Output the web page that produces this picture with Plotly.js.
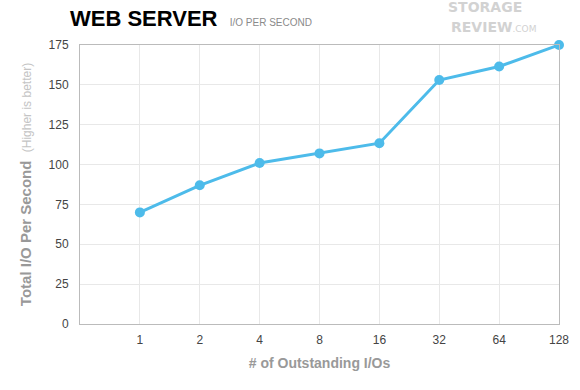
<!DOCTYPE html>
<html>
<head>
<meta charset="utf-8">
<script src="https://cdn.plot.ly/plotly-3.0.1.min.js"></script>
<style>html,body{margin:0;padding:0;background:#fff;}#chart{width:580px;height:390px;}</style>
</head>
<body>
<div id="chart"></div>
<script>
const categories = ["1", "2", "4", "8", "16", "32", "64", "128"];
const iops = [70, 87, 101, 107, 113.4, 153, 161.5, 175];
const yTicks = [0, 25, 50, 75, 100, 125, 150, 175];

const trace = {
  x: categories,
  y: iops,
  type: 'scatter',
  mode: 'lines+markers',
  line: {color: '#4dbbea', width: 3},
  marker: {color: '#4dbbea', size: 10},
  cliponaxis: false,
  hoverinfo: 'none'
};

const layout = {
  width: 580,
  height: 390,
  margin: {l: 80, r: 21, t: 45, b: 66},
  paper_bgcolor: '#ffffff',
  plot_bgcolor: '#ffffff',
  showlegend: false,
  font: {family: 'Liberation Sans, Arial, sans-serif', color: '#444'},
  title: {
    text: "<b>WEB SERVER</b>  <span style='font-size:10px;color:#8a8a8a;font-weight:normal'>I/O PER SECOND</span>",
    font: {family: 'Liberation Sans, Arial, sans-serif', size: 22, color: '#000'},
    xref: 'container', yref: 'container',
    x: 70/580, xanchor: 'left',
    y: 1 - 18/390, yanchor: 'middle'
  },
  xaxis: {
    type: 'category',
    range: [-1, 7],
    showgrid: true,
    gridcolor: '#e8e8e8',
    gridwidth: 1,
    showline: true,
    mirror: true,
    linecolor: '#bbbbbb',
    linewidth: 1,
    ticks: '',
    ticklabelstandoff: 5,
    tickfont: {size: 12, color: '#444'},
    zeroline: false,
    fixedrange: true,
    title: {text: '<b># of Outstanding I/Os</b>', font: {size: 14, color: '#999'}, standoff: 11}
  },
  yaxis: {
    range: [0, 175],
    tickvals: yTicks,
    ticktext: yTicks.map(String),
    showgrid: true,
    gridcolor: '#e8e8e8',
    gridwidth: 1,
    showline: true,
    mirror: true,
    linecolor: '#bbbbbb',
    linewidth: 1,
    ticks: '',
    ticklabelstandoff: 8,
    tickfont: {size: 12, color: '#444'},
    zeroline: false,
    fixedrange: true,
    title: {text: "<b>Total I/O Per Second</b>  <span style='font-size:12px;color:#c4c4c4;font-weight:normal'>(Higher is better)</span>", font: {size: 15, color: '#999'}, standoff: 13}
  },
  annotations: [
    {text: '<b>STORAGE</b>', xref: 'paper', yref: 'paper', x: (485 - 80) / 479, y: (324 - 17) / 279, xanchor: 'center', yanchor: 'bottom', showarrow: false, font: {size: 14, color: '#d2d2d2', family: 'DejaVu Sans, Liberation Sans, Arial'}},
    {text: '<b>REVIEW</b><span style="font-size:9px">.COM</span>', xref: 'paper', yref: 'paper', x: (493 - 80) / 479, y: (324 - 17) / 279, xanchor: 'center', yanchor: 'top', showarrow: false, font: {size: 14, color: '#d2d2d2', family: 'DejaVu Sans, Liberation Sans, Arial'}}
  ]
};

Plotly.newPlot('chart', [trace], layout, {displayModeBar: false, staticPlot: true});
</script>
</body>
</html>
